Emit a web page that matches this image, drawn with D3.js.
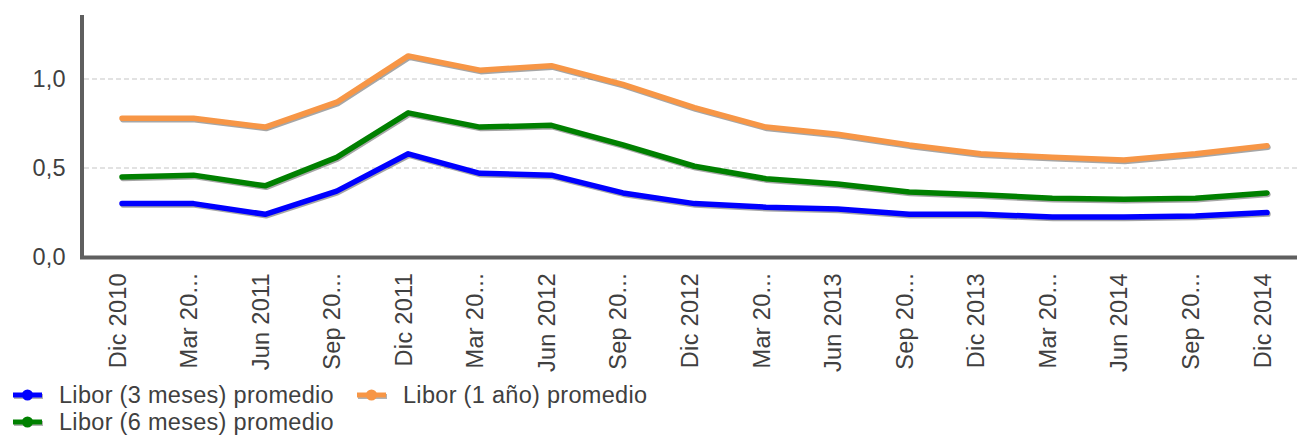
<!DOCTYPE html>
<html>
<head>
<meta charset="utf-8">
<script src="https://cdn.jsdelivr.net/npm/d3@7"></script>
<style>
  html, body { margin: 0; padding: 0; background: #fff; }
  svg { display: block; }
  text { font-family: "Liberation Sans", Arial, sans-serif; fill: #404040; }
</style>
</head>
<body>
<svg id="chart" width="1297" height="435"></svg>
<script>
// Quarter labels shown on the horizontal axis
const tickLabels = ["Dic 2010", "Mar 20...", "Jun 2011", "Sep 20...", "Dic 2011", "Mar 20...",
  "Jun 2012", "Sep 20...", "Dic 2012", "Mar 20...", "Jun 2013", "Sep 20...", "Dic 2013",
  "Mar 20...", "Jun 2014", "Sep 20...", "Dic 2014"];

// Average Libor rates (%) per quarter
const libor3m = [0.30, 0.30, 0.24, 0.37, 0.58, 0.47, 0.46, 0.36, 0.30, 0.28, 0.27, 0.24, 0.24, 0.225, 0.225, 0.23, 0.25];
const libor6m = [0.45, 0.46, 0.40, 0.56, 0.81, 0.73, 0.74, 0.63, 0.51, 0.44, 0.41, 0.365, 0.35, 0.33, 0.325, 0.33, 0.36];
const libor1y = [0.78, 0.78, 0.73, 0.87, 1.13, 1.05, 1.075, 0.97, 0.84, 0.73, 0.69, 0.63, 0.58, 0.56, 0.545, 0.58, 0.625];

const yTicks = [0, 0.5, 1.0];

const seriesNames = ["Libor (3 meses) promedio", "Libor (6 meses) promedio", "Libor (1 año) promedio"];
const seriesColors = ["#0000ff", "#008000", "#f79646"];
const seriesValues = [libor3m, libor6m, libor1y];

const svg = d3.select("#chart");
const fmt = d3.format(".1f");
const comma = v => fmt(v).replace(".", ",");
const FONT = "Liberation Sans, Arial, sans-serif";
const FS = 23.5;
const LS = "0.3px";

const x = d3.scalePoint().domain(d3.range(tickLabels.length)).range([122, 1267]);
const y = d3.scaleLinear().domain([0, 1.36]).range([257, 15]);

// Dashed horizontal gridlines
svg.append("g").selectAll("line")
  .data(yTicks.filter(d => d > 0))
  .join("line")
  .attr("x1", 84).attr("x2", 1297)
  .attr("y1", d => y(d)).attr("y2", d => y(d))
  .attr("stroke", "#d9d9d9").attr("stroke-width", 1.5)
  .attr("stroke-dasharray", "5,3");

// Y axis tick labels
const yAxis = d3.axisLeft(y).tickValues(yTicks).tickFormat(comma).tickSize(2).tickPadding(14);
const gy = svg.append("g").attr("transform", "translate(82,0)").call(yAxis);
gy.select(".domain").remove();
gy.selectAll(".tick line").attr("stroke", "#606060");
gy.selectAll(".tick text")
  .attr("font-size", FS).attr("letter-spacing", LS)
  .attr("fill", "#404040").attr("font-family", FONT);

// X axis labels, rotated
const xAxis = d3.axisBottom(x).tickFormat(i => tickLabels[i]).tickSize(0);
const gx = svg.append("g").attr("transform", "translate(0,257)").call(xAxis);
gx.select(".domain").remove();
gx.selectAll(".tick text")
  .attr("font-size", FS).attr("letter-spacing", LS)
  .attr("fill", "#404040").attr("font-family", FONT)
  .attr("text-anchor", "end")
  .attr("dy", null)
  .attr("y", 0)
  .attr("transform", "translate(3,16) rotate(-90)");

// Axis lines
svg.append("line").attr("x1", 82).attr("x2", 82).attr("y1", 15).attr("y2", 259)
  .attr("stroke", "#5f5f5f").attr("stroke-width", 4);
svg.append("line").attr("x1", 80).attr("x2", 1297).attr("y1", 257.5).attr("y2", 257.5)
  .attr("stroke", "#5f5f5f").attr("stroke-width", 4);

// Series lines with a soft drop shadow
const line = d3.line().x((d, i) => x(i)).y(d => y(d));
const series = svg.append("g");
seriesValues.forEach((vals, k) => {
  series.append("path").datum(vals)
    .attr("d", line).attr("fill", "none")
    .attr("stroke", "rgba(0,0,0,0.35)").attr("stroke-width", 5.5)
    .attr("stroke-linecap", "round").attr("stroke-linejoin", "round")
    .attr("transform", "translate(1,1.5)");
  series.append("path").datum(vals)
    .attr("d", line).attr("fill", "none")
    .attr("stroke", seriesColors[k]).attr("stroke-width", 5.5)
    .attr("stroke-linecap", "round").attr("stroke-linejoin", "round");
});

// Legend
const legendPos = [[13, 395], [13, 422], [357, 395]];
const legend = svg.append("g");
seriesNames.forEach((name, k) => {
  const [lx, ly] = legendPos[k];
  const g = legend.append("g").attr("transform", `translate(${lx},${ly})`);
  g.append("line").attr("x1", 1).attr("x2", 30).attr("y1", 1.5).attr("y2", 1.5)
    .attr("stroke", "rgba(0,0,0,0.3)").attr("stroke-width", 5);
  g.append("line").attr("x1", 0).attr("x2", 29).attr("y1", 0).attr("y2", 0)
    .attr("stroke", seriesColors[k]).attr("stroke-width", 5);
  g.append("circle").attr("cx", 14.5).attr("cy", 0).attr("r", 5.5).attr("fill", seriesColors[k]);
  g.append("text").attr("x", 46).attr("y", 0).attr("dy", "0.35em")
    .attr("font-size", FS).attr("letter-spacing", LS).attr("font-family", FONT)
    .text(name);
});
</script>
</body>
</html>
